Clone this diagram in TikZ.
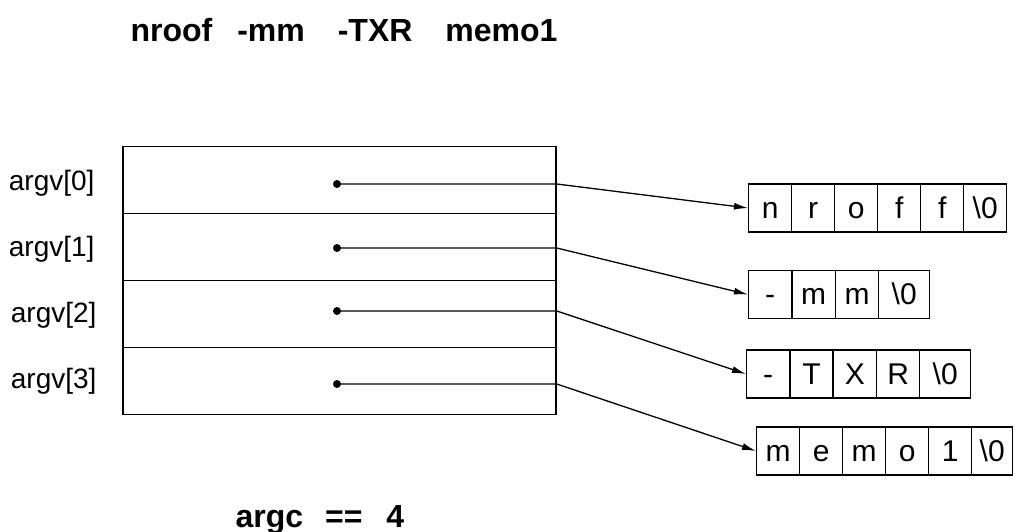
\documentclass[tikz,border=0pt]{standalone}
\usepackage{fontspec}
\setmainfont{Liberation Sans}
\usetikzlibrary{arrows.meta}

\begin{document}
\begin{tikzpicture}[x=1pt,y=-1pt,
    slot/.style={draw,line width=1.4pt,minimum width=433pt,minimum height=67pt,inner sep=0pt},
    cell/.style={draw,line width=1.4pt,anchor=west,minimum width=43pt,minimum height=48pt,inner sep=0pt,
        text height=21pt,text depth=1pt,font=\fontsize{30}{30}\selectfont},
    endcell/.style={cell,minimum width=51pt},
    lbl/.style={anchor=base east,font=\fontsize{28}{30}\selectfont},
    dot/.style={circle,fill,inner sep=0pt,minimum size=8pt},
    ptr/.style={line width=1.3pt,-{Latex[length=14pt,width=7pt]}}]

    \useasboundingbox (0,0) rectangle (1015,532);

    \node[anchor=base west,font=\bfseries\fontsize{32}{34}\selectfont] (cmd) at (127,42)
    {nroof\hspace{25pt}-mm\hspace{33pt}-TXR\hspace{33pt}memo1}; % command line

    % argv table
    \node[slot] (row0) at (339.5,180) {};
    \node[slot] (row1) at (339.5,247) {};
    \node[slot] (row2) at (339.5,314) {};
    \node[slot] (row3) at (339.5,381) {};

    \node[lbl] (arg0) at (98,190) {argv[0]};
    \node[lbl] (arg1) at (98,256) {argv[1]};
    \node[lbl] (arg2) at (100,322) {argv[2]};
    \node[lbl] (arg3) at (100,388) {argv[3]};

    \node[dot] (p0) at (337,184) {};
    \node[dot] (p1) at (337,248) {};
    \node[dot] (p2) at (337,311) {};
    \node[dot] (p3) at (337,384) {};

    % strings
    \foreach \c [count=\i from 0] in {n,r,o,f,f}
        \node[cell] (s0c\i) at (748+43*\i,208) {\c};
    \node[cell] (s0c5) at (963,208) {\textbackslash0};

    \foreach \c [count=\i from 0] in {-,m,m}
        \node[cell] (s1c\i) at (748+43.5*\i,294.5) {\c};
    \node[endcell] (s1c3) at (878,294.5) {\textbackslash0};

    \foreach \c [count=\i from 0] in {-,T,X,R}
        \node[cell] (s2c\i) at (746+43.3*\i,374) {\c};
    \node[endcell] (s2c4) at (919,374) {\textbackslash0};

    \foreach \c [count=\i from 0] in {m,e,m,o,1}
        \node[cell] (s3c\i) at (756+43*\i,451) {\c};
    \node[cell,minimum width=41pt] (s3c5) at (971,451) {\textbackslash0};

    % pointers
    \draw[ptr] (p0.center) -- (p0 -| row0.east) -- (s0c0.west);
    \draw[ptr] (p1.center) -- (p1 -| row1.east) -- (s1c0.west);
    \draw[ptr] (p2.center) -- (p2 -| row2.east) -- (s2c0.west);
    \draw[ptr] (p3.center) -- (p3 -| row3.east) -- (s3c0.west);

    \node[anchor=base west,font=\bfseries\fontsize{32}{34}\selectfont] (argc) at (232,527)
    {argc\hspace{22pt}==\hspace{24pt}4}; % count
\end{tikzpicture}
\end{document}
